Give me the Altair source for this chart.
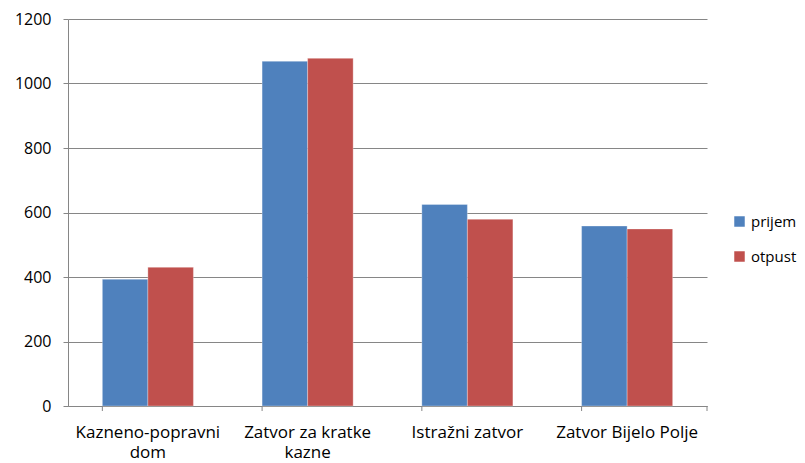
import altair as alt
import pandas as pd

categories = ["Kazneno-popravni dom", "Zatvor za kratke kazne", "Istražni zatvor", "Zatvor Bijelo Polje"]
series = ["prijem", "otpust"]
prijem = [393, 1069, 625, 558]
otpust = [430, 1078, 579, 549]
colors = ["#4F81BD", "#C0504D"]

rows = []
for c, p, o in zip(categories, prijem, otpust):
    rows.append({"cat": c, "serija": "prijem", "v": p})
    rows.append({"cat": c, "serija": "otpust", "v": o})
df = pd.DataFrame(rows)
bdf = pd.DataFrame({"cat": categories})

W, H = 639, 387
FONT = "Open Sans"
GRID = "#868686"

label_expr = ("datum.label == 'Kazneno-popravni dom' ? ['Kazneno-popravni', 'dom'] : "
              "datum.label == 'Zatvor za kratke kazne' ? ['Zatvor za kratke', 'kazne'] : datum.label")

xscale = alt.Scale(domain=categories, paddingInner=0.43, paddingOuter=0.215)

bars = alt.Chart(df).mark_bar(stroke="white", strokeWidth=0.5, strokeOpacity=0.6).encode(
    x=alt.X("cat:N", sort=categories, scale=xscale, title=None,
            axis=alt.Axis(labelAngle=0, ticks=False, domain=True, domainColor=GRID,
                          labelExpr=label_expr, labelFontSize=17, labelFont=FONT,
                          labelColor="#000000", labelPadding=31, labelLineHeight=20,
                          labelBaseline="alphabetic")),
    xOffset=alt.XOffset("serija:N", sort=series, scale=alt.Scale(domain=series, paddingInner=0, paddingOuter=0)),
    y=alt.Y("v:Q", scale=alt.Scale(domain=[0, 1200]), title=None,
            axis=alt.Axis(values=[0, 200, 400, 600, 800, 1000, 1200], format="d", grid=True, gridColor=GRID,
                          gridWidth=1, domainColor=GRID, tickColor=GRID, tickSize=5,
                          labelFontSize=16, labelFont=FONT, labelColor="#000000", labelPadding=12)),
    color=alt.Color("serija:N", sort=series, scale=alt.Scale(domain=series, range=colors),
                    legend=alt.Legend(title=None, orient="none", legendX=W + 25, legendY=195,
                                      symbolType="square", symbolSize=110, symbolStrokeWidth=0,
                                      labelFontSize=15, labelFont=FONT, labelColor="#000000",
                                      rowPadding=19, labelOffset=4)),
)

ticks = alt.Chart(bdf).mark_rule(color=GRID, strokeWidth=1).encode(
    x=alt.X("cat:N", sort=categories, scale=xscale, bandPosition=0),
    y=alt.value(H),
    y2=alt.value(H + 5),
)
last_tick = alt.Chart(pd.DataFrame({"cat": [categories[-1]]})).mark_rule(color=GRID, strokeWidth=1).encode(
    x=alt.value(W), y=alt.value(H), y2=alt.value(H + 5),
)

chart = alt.layer(bars, ticks, last_tick).properties(
    width=W, height=H,
    autosize=alt.AutoSizeParams(type="none"),
    padding={"left": 60, "top": 11, "right": 90, "bottom": 56},
).configure_view(stroke=None).configure_axis(domainWidth=1, tickWidth=1)

chart.save("out.html", embed_options={"renderer": "svg", "actions": False})
